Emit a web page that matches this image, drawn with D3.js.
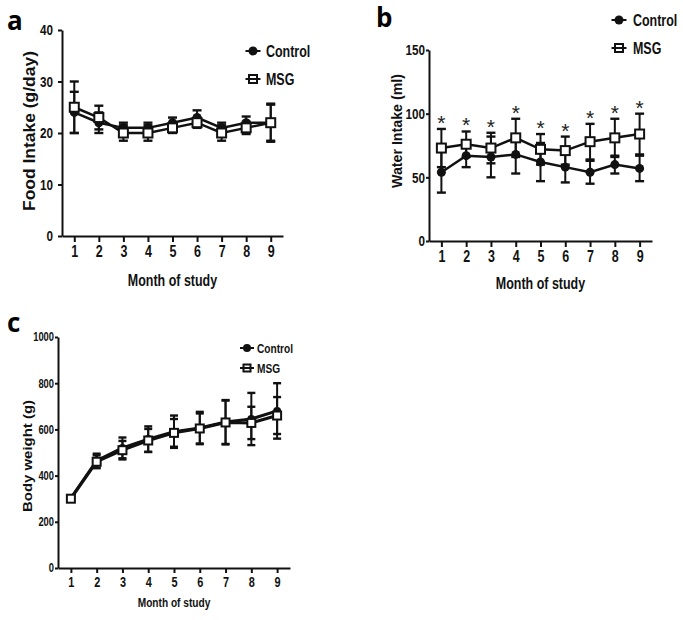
<!DOCTYPE html>
<html><head><meta charset="utf-8">
<script src="https://cdn.jsdelivr.net/npm/d3@7"></script>
<style>
html,body{margin:0;padding:0;background:#fff;}
svg{display:block;}
</style></head>
<body>
<svg id="chart" width="683" height="620"></svg>
<script>
// ---------- DATA ----------
const months = [1, 2, 3, 4, 5, 6, 7, 8, 9];

// Panel a: Food intake (g/day)
const foodTicks = [0, 10, 20, 30, 40];
const foodControl    = [24, 22, 21, 21, 22, 23, 21, 22, 22];
const foodControlErr = [4, 2, 1, 1, 1, 1.4, 1, 1.2, 3.5];
const foodMSG        = [25, 23, 20, 20, 21, 22, 20, 21, 22];
const foodMSGErr     = [5, 2.3, 1.5, 1.5, 1, 1, 1.5, 1.2, 3.7];

// Panel b: Water intake (ml)
const waterTicks = [0, 50, 100, 150];
const waterControl    = [54, 67, 66, 68, 62, 58, 54, 60, 57];
const waterControlErr = [16, 9, 16, 15, 15, 12, 9, 7, 10];
const waterMSG        = [73, 76, 73, 81, 72, 71, 78, 81, 84];
const waterMSGErr     = [15, 10, 12, 15, 12, 11, 14, 15, 16];
const waterSignificant = [true, true, true, true, true, true, true, true, true];

// Panel c: Body weight (g)
const weightTicks = [0, 200, 400, 600, 800, 1000];
const weightControl    = [303, 465, 520, 558, 590, 606, 632, 645, 680];
const weightControlErr = [12, 30, 45, 55, 70, 70, 95, 113, 120];
const weightMSG        = [300, 460, 510, 552, 585, 604, 630, 628, 660];
const weightMSGErr     = [12, 28, 40, 50, 60, 65, 95, 70, 80];

const seriesNames = ["Control", "MSG"];
const xLabel = "Month of study";

// ---------- DRAW ----------
const svg = d3.select("#chart");
const SANS = "'Liberation Sans',Arial,sans-serif";
const INK = "#111";
const SX = 0.78; // horizontal condensing to imitate a narrow bold face

function condense(sel) {
  sel.each(function () {
    const t = d3.select(this);
    const xv = +(t.attr("x") || 0);
    t.attr("x", xv / SX).attr("transform", (t.attr("transform") || "") + ` scale(${SX},1)`);
  });
}

function panel(cfg) {
  const g = svg.append("g");
  const x = d3.scaleLinear().domain([0.5, 9.5]).range([cfg.x0, cfg.x1]);
  const y = d3.scaleLinear().domain([cfg.ticks[0], cfg.ticks[cfg.ticks.length - 1]]).range([cfg.y0, cfg.y1]);

  // axes
  const yAxis = d3.axisLeft(y).tickValues(cfg.ticks).tickFormat(d3.format("d"))
    .tickSize(cfg.tick).tickPadding(cfg.pad).tickSizeOuter(0);
  const xAxis = d3.axisBottom(x).tickValues(months).tickFormat(d3.format("d"))
    .tickSize(cfg.xtick).tickPadding(cfg.xpad).tickSizeOuter(0);
  const ya = g.append("g").attr("transform", `translate(${cfg.x0},0)`).call(yAxis);
  const xa = g.append("g").attr("transform", `translate(0,${cfg.y0})`).call(xAxis);
  [[ya, cfg.fs], [xa, cfg.xfs]].forEach(([a, fs]) => {
    a.select(".domain").attr("stroke", INK).attr("stroke-width", 2);
    a.selectAll(".tick line").attr("stroke", INK).attr("stroke-width", 2);
    a.selectAll("text").attr("fill", INK).style("font-family", SANS)
      .style("font-weight", "bold").style("font-size", fs + "px");
    condense(a.selectAll("text"));
  });

  // axis titles
  const xl = g.append("text").attr("x", (cfg.x0 + cfg.x1) / 2).attr("y", cfg.xlabY)
    .attr("text-anchor", "middle").attr("fill", INK)
    .style("font-family", SANS).style("font-weight", "bold").style("font-size", cfg.xlabFs + "px")
    .text(xLabel);
  condense(xl);
  g.append("text").attr("transform", `translate(${cfg.ylabX},${cfg.ylabY}) rotate(-90)`)
    .attr("text-anchor", "middle").attr("fill", INK)
    .attr("textLength", cfg.ylabLen).attr("lengthAdjust", "spacingAndGlyphs")
    .style("font-family", SANS).style("font-weight", "bold").style("font-size", cfg.ylabFs + "px")
    .text(cfg.ylab);

  // panel letter
  g.append("text").attr("x", cfg.letterX).attr("y", cfg.letterY).attr("fill", "#000")
    .style("font-family", "'Open Sans',sans-serif").style("font-weight", "bold").style("font-size", "26px")
    .text(cfg.letter);

  const line = d3.line().x((d, i) => x(months[i])).y(d => y(d));
  const series = [
    {vals: cfg.ctrl, err: cfg.ctrlErr, open: false},
    {vals: cfg.msg, err: cfg.msgErr, open: true}
  ];
  const cw = cfg.cap;
  series.forEach(s => {
    const eb = g.append("g");
    s.vals.forEach((v, i) => {
      const cx = x(months[i]), lo = y(v - s.err[i]), hi = y(v + s.err[i]);
      eb.append("line").attr("x1", cx).attr("x2", cx).attr("y1", lo).attr("y2", hi)
        .attr("stroke", INK).attr("stroke-width", 2);
      [lo, hi].forEach(yy => eb.append("line").attr("x1", cx - cw).attr("x2", cx + cw)
        .attr("y1", yy).attr("y2", yy).attr("stroke", INK).attr("stroke-width", 2.4));
    });
  });
  series.forEach(s => {
    g.append("path").attr("d", line(s.vals)).attr("fill", "none")
      .attr("stroke", INK).attr("stroke-width", cfg.lw);
  });
  series.forEach(s => {
    s.vals.forEach((v, i) => {
      const cx = x(months[i]), cy = y(v);
      if (s.open) {
        g.append("rect").attr("x", cx - cfg.ms).attr("y", cy - cfg.ms)
          .attr("width", cfg.ms * 2).attr("height", cfg.ms * 2)
          .attr("fill", "#fff").attr("stroke", INK).attr("stroke-width", 2);
      } else {
        g.append("circle").attr("cx", cx).attr("cy", cy).attr("r", cfg.ms)
          .attr("fill", INK);
      }
    });
  });

  // significance stars
  if (cfg.stars) {
    cfg.stars.forEach((s, i) => {
      if (!s) return;
      g.append("text").attr("x", x(months[i])).attr("y", y(cfg.msg[i] + cfg.msgErr[i]) + 1)
        .attr("text-anchor", "middle").attr("fill", "#222")
        .style("font-family", SANS).style("font-size", "21px").text("*");
    });
  }

  // legend
  seriesNames.forEach((name, k) => {
    const ly = cfg.legY + k * cfg.legDy, lx = cfg.legX;
    g.append("line").attr("x1", lx - cfg.ms - 3).attr("x2", lx + cfg.ms + 3)
      .attr("y1", ly).attr("y2", ly).attr("stroke", INK).attr("stroke-width", 2);
    if (k === 1) {
      g.append("rect").attr("x", lx - cfg.ms + 0.5).attr("y", ly - cfg.ms + 0.5)
        .attr("width", cfg.ms * 2 - 1).attr("height", cfg.ms * 2 - 1)
        .attr("fill", "#fff").attr("stroke", INK).attr("stroke-width", 2);
      g.append("line").attr("x1", lx - cfg.ms).attr("x2", lx + cfg.ms)
        .attr("y1", ly).attr("y2", ly).attr("stroke", INK).attr("stroke-width", 2);
    } else {
      g.append("circle").attr("cx", lx).attr("cy", ly).attr("r", cfg.ms).attr("fill", INK);
    }
    const lt = g.append("text").attr("x", cfg.legTx).attr("y", ly + cfg.legFs * 0.36).attr("fill", INK)
      .style("font-family", SANS).style("font-weight", "bold").style("font-size", cfg.legFs + "px")
      .text(name);
    condense(lt);
  });
}

panel({
  letter: "a", letterX: 7, letterY: 30,
  x0: 62, x1: 283, y0: 236, y1: 30, ticks: foodTicks,
  tick: 4, pad: 5, xtick: 6, xpad: 4, fs: 15, xfs: 16,
  xlabY: 286, xlabFs: 16, ylab: "Food Intake (g/day)", ylabX: 35, ylabY: 131, ylabLen: 160, ylabFs: 16,
  ctrl: foodControl, ctrlErr: foodControlErr, msg: foodMSG, msgErr: foodMSGErr,
  cap: 4.5, ms: 4.5, lw: 2.5,
  legX: 253, legY: 51, legDy: 28, legTx: 266, legFs: 16
});

panel({
  letter: "b", letterX: 376, letterY: 27,
  x0: 429, x1: 652, y0: 241, y1: 50, ticks: waterTicks,
  tick: 3, pad: 1, xtick: 6, xpad: 4, fs: 15, xfs: 16,
  xlabY: 289, xlabFs: 16, ylab: "Water Intake (ml)", ylabX: 402, ylabY: 131, ylabLen: 114, ylabFs: 14,
  ctrl: waterControl, ctrlErr: waterControlErr, msg: waterMSG, msgErr: waterMSGErr,
  stars: waterSignificant,
  cap: 4.5, ms: 4.5, lw: 2.5,
  legX: 619, legY: 20, legDy: 28, legTx: 633, legFs: 16
});

panel({
  letter: "c", letterX: 7, letterY: 332,
  x0: 58, x1: 290, y0: 568, y1: 337, ticks: weightTicks,
  tick: 3, pad: 1, xtick: 5, xpad: 4, fs: 12, xfs: 14,
  xlabY: 607, xlabFs: 13, ylab: "Body weight (g)", ylabX: 32, ylabY: 456, ylabLen: 112, ylabFs: 13,
  ctrl: weightControl, ctrlErr: weightControlErr, msg: weightMSG, msgErr: weightMSGErr,
  cap: 4, ms: 4, lw: 3,
  legX: 247, legY: 348, legDy: 20, legTx: 257, legFs: 13
});
</script>
</body></html>
